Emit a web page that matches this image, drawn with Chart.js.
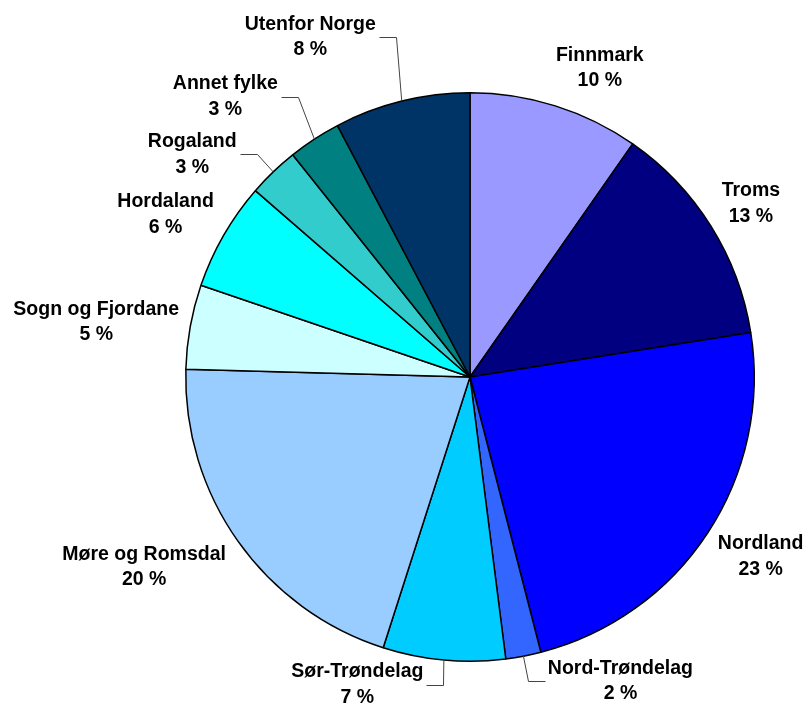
<!DOCTYPE html>
<html>
<head>
<meta charset="utf-8">
<script src="https://cdn.jsdelivr.net/npm/chart.js@4/dist/chart.umd.min.js"></script>
<style>
html,body{margin:0;padding:0;background:#fff;}
canvas{display:block;}
</style>
</head>
<body>
<canvas id="c" width="806" height="704"></canvas>
<script>
// ---- data ----
const categories = ["Finnmark","Troms","Nordland","Nord-Trøndelag","Sør-Trøndelag","Møre og Romsdal","Sogn og Fjordane","Hordaland","Rogaland","Annet fylke","Utenfor Norge"];
const shares = [9.7, 12.8, 23.49, 2.0, 6.95, 20.49, 4.8, 6.15, 2.9, 3.0, 7.72];

// ---- styles ----
const sliceColors = ["#9999FF","#000080","#0000FF","#3366FF","#00CCFF","#99CCFF","#CCFFFF","#00FFFF","#33CCCC","#008080","#003366"];
// label block centre offset from the slice's outer mid point
const labelOffsets = [[44.5,-37.5],[40,-22.5],[53,23.5],[97,25],[-86.5,24.5],[-94,25.5],[-94,-4.5],[-58,-20.5],[-81,-17.5],[-89,-42.5],[-91.5,-64]];
// leader lines: 0 none, 1 line leaves label to the right, -1 to the left
const leaderSide = [0,0,0,-1,1,0,0,0,1,1,1];
const FONT = "bold 19.5px 'Liberation Sans', Arial, sans-serif";
const LINE_H = 25.5;

const labelPlugin = {
  id: 'pieLabels',
  afterDatasetsDraw(chart) {
    const ctx = chart.ctx;
    const meta = chart.getDatasetMeta(0);
    const total = shares.reduce((a,b)=>a+b,0);
    ctx.save();
    ctx.font = FONT;
    ctx.textAlign = 'center';
    ctx.textBaseline = 'middle';
    meta.data.forEach((arc, i) => {
      const p = arc.getProps(['x','y','startAngle','endAngle','outerRadius'], true);
      const mid = (p.startAngle + p.endAngle) / 2;
      const ex = p.x + Math.cos(mid) * p.outerRadius;
      const ey = p.y + Math.sin(mid) * p.outerRadius;
      const cx = ex + labelOffsets[i][0];
      const cy = ey + labelOffsets[i][1];
      const l1 = categories[i];
      const l2 = Math.round(shares[i] / total * 100) + ' %';
      ctx.fillStyle = '#000';
      ctx.fillText(l1, cx, cy - LINE_H/2);
      ctx.fillText(l2, cx, cy + LINE_H/2);
      const side = leaderSide[i];
      if (side !== 0) {
        const w = ctx.measureText(l1).width;
        const hx = cx + side * (w/2 + 3);
        const kx = hx + side * 17;
        ctx.beginPath();
        ctx.strokeStyle = '#444';
        ctx.lineWidth = 1;
        ctx.moveTo(Math.round(hx)+0.5, Math.round(cy)+0.5);
        ctx.lineTo(Math.round(kx)+0.5, Math.round(cy)+0.5);
        ctx.lineTo(ex, ey);
        ctx.stroke();
      }
    });
    ctx.restore();
  }
};

new Chart(document.getElementById('c'), {
  type: 'pie',
  data: {
    labels: categories,
    datasets: [{
      data: shares,
      backgroundColor: sliceColors,
      borderColor: '#000',
      borderWidth: 1.5
    }]
  },
  options: {
    responsive: false,
    animation: false,
    layout: { padding: { left: 185, right: 51, top: 92, bottom: 42 } },
    plugins: { legend: { display: false }, tooltip: { enabled: false } }
  },
  plugins: [labelPlugin]
});
</script>
</body>
</html>
